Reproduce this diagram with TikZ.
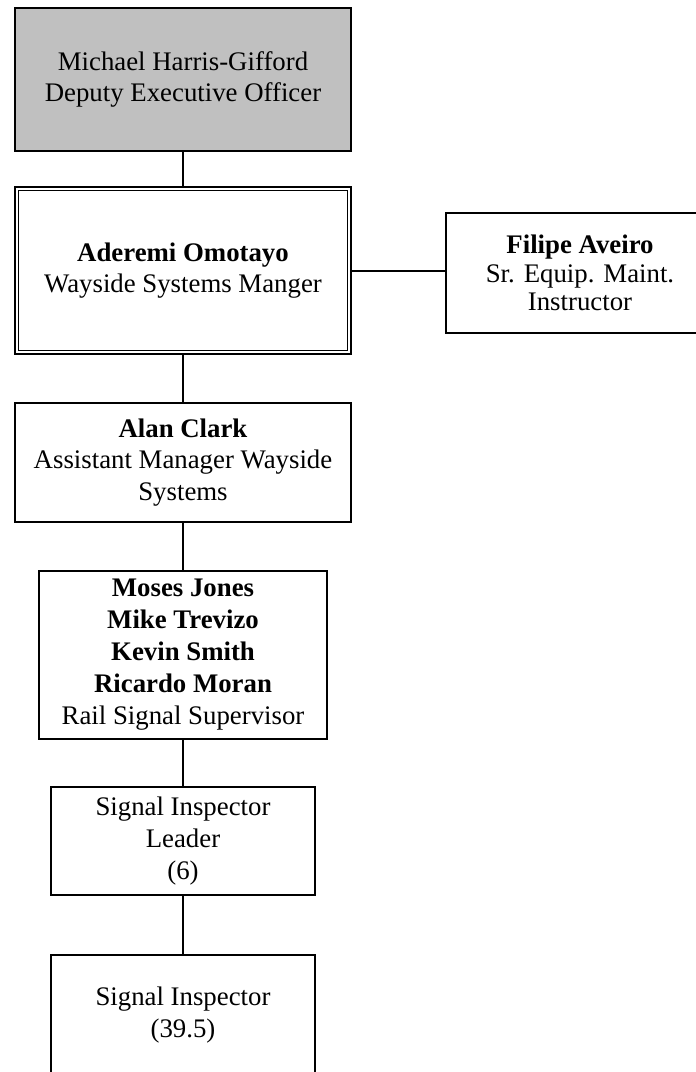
\documentclass[tikz,border=0pt]{standalone}
\usepackage{fontspec}
\setmainfont{Liberation Serif}
\usetikzlibrary{calc,positioning}
\definecolor{headGray}{RGB}{192,192,192}
\tikzset{
  orgbox/.style={draw=black,line width=1pt,align=center,inner sep=0pt,
    font=\fontsize{13.4}{15.9}\selectfont},
  orgline/.style={draw=black,line width=1pt},
}

\begin{document}
\begin{tikzpicture}[x=0.5pt,y=-0.5pt]
  \useasboundingbox (0,0) rectangle (696,1072);
  % top of the chart
  \node[orgbox,fill=headGray,minimum width=167.75pt,minimum height=71.75pt] (deo) at (183,79.5)
    {Michael Harris-Gifford\\Deputy Executive Officer};
  \node[orgbox,minimum width=168pt,minimum height=83.5pt] (wsm) at (183,270.5)
    {\textbf{Aderemi Omotayo}\\Wayside Systems Manger};
  \draw[line width=0.65pt] ([shift={(2.2pt,-2.2pt)}]wsm.north west) rectangle ([shift={(-2.2pt,2.2pt)}]wsm.south east);
  \node[orgbox,minimum width=134pt,minimum height=60pt,font=\fontsize{13.4}{14.2}\selectfont] (inst) at (580,273)
    {\textbf{Filipe Aveiro}\\Sr. Equip. Maint.\\Instructor};
  % line staff
  \node[orgbox,minimum width=168pt,minimum height=59.5pt] (acm) at (183,462.5)
    {\textbf{Alan Clark}\\Assistant Manager Wayside\\Systems};
  \node[orgbox,minimum width=144pt,minimum height=84pt] (rss) at (183,654.7)
    {\textbf{Moses Jones}\\\textbf{Mike Trevizo}\\\textbf{Kevin Smith}\\\textbf{Ricardo Moran}\\Rail Signal Supervisor};
  \node[orgbox,minimum width=132pt,minimum height=53.75pt] (sil) at (183,840.8)
    {Signal Inspector\\Leader\\(6)};
  \node[orgbox,minimum width=132pt,minimum height=60pt] (si) at (183,1015)
    {Signal Inspector\\(39.5)};
  % connectors
  \draw[orgline] (deo.south) -- (wsm.north);
  \draw[orgline] (wsm.east) -- (wsm.east -| inst.west);
  \draw[orgline] (wsm.south) -- (acm.north);
  \draw[orgline] (acm.south) -- (rss.north);
  \draw[orgline] (rss.south) -- (sil.north);
  \draw[orgline] (sil.south) -- (si.north);
\end{tikzpicture}
\end{document}
